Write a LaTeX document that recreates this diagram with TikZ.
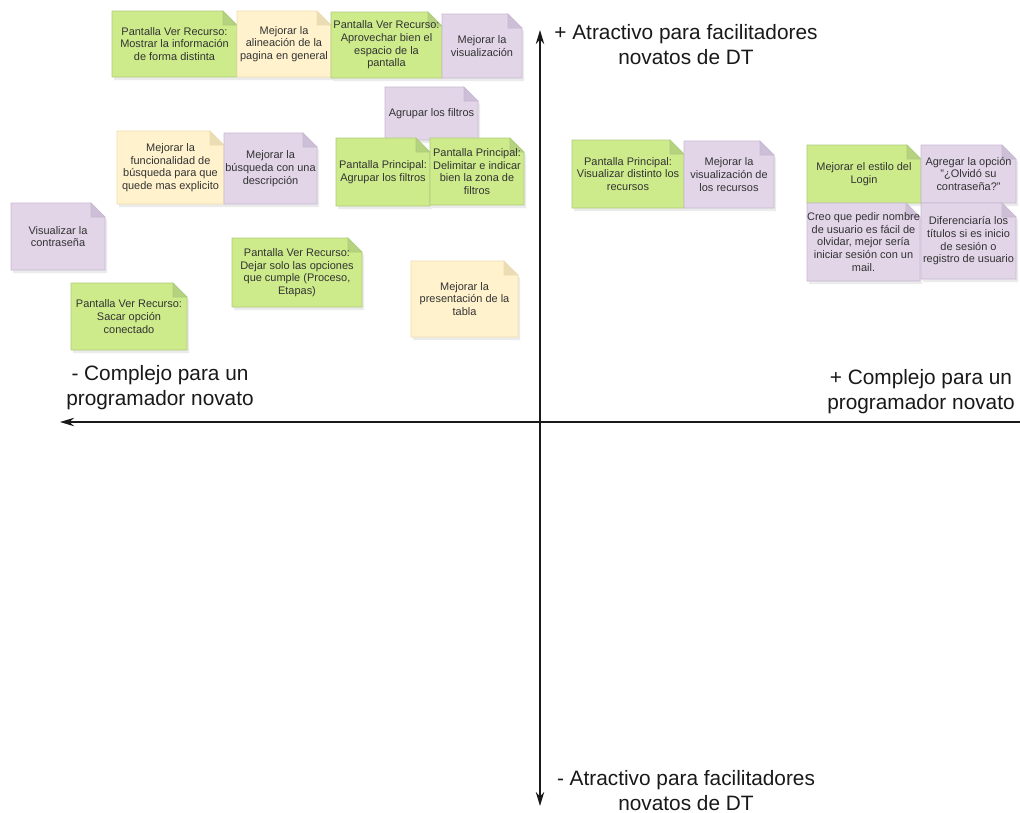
\documentclass[tikz,border=0pt]{standalone}
\usepackage{fontspec}
\setmainfont{Liberation Sans}
\usetikzlibrary{arrows.meta}

\definecolor{greenfill}{HTML}{CDEB8B}
\definecolor{greenline}{HTML}{AFCB7E}
\definecolor{greenfold}{HTML}{B5D27F}
\definecolor{yellowfill}{HTML}{FFF2CC}
\definecolor{yellowline}{HTML}{EEDDB0}
\definecolor{yellowfold}{HTML}{EADCB4}
\definecolor{purplefill}{HTML}{E1D5E7}
\definecolor{purpleline}{HTML}{C9B9D3}
\definecolor{purplefold}{HTML}{CDBFD8}

% sticky note: name, colour, x1, y1, x2, y2, text (pixel coordinates, y down)
\newcommand{\stickynote}[7]{%
  \path[noteshadow] (#3+2,#4+3) -- (#5-14+2,#4+3) -- (#5+2,#4+14+3) -- (#5+2,#6+3) -- (#3+2,#6+3) -- cycle;
  \path[note#2] (#3,#4) -- (#5-14,#4) -- (#5,#4+14) -- (#5,#6) -- (#3,#6) -- cycle;
  \path[fold#2] (#5-14,#4) -- (#5-14,#4+14) -- (#5,#4+14) -- cycle;
  \node[notetext] (#1) at ({(#3+#5)/2},{(#4+#6)/2}) {#7};}

\begin{document}
\begin{tikzpicture}
	[x=0.025cm, y=-0.025cm,
	noteshadow/.style={fill=black, opacity=0.08},
	notegreen/.style={fill=greenfill, draw=greenline, line width=0.5pt},
	noteyellow/.style={fill=yellowfill, draw=yellowline, line width=0.5pt},
	notepurple/.style={fill=purplefill, draw=purpleline, line width=0.5pt},
	foldgreen/.style={fill=greenfold, draw=greenline, line width=0.5pt},
	foldyellow/.style={fill=yellowfold, draw=yellowline, line width=0.5pt},
	foldpurple/.style={fill=purplefold, draw=purpleline, line width=0.5pt},
	notetext/.style={align=center, inner sep=0pt, text=black!80, font=\fontsize{7.8}{9}\selectfont},
	axislabel/.style={align=center, inner sep=0pt, text=black!90, font=\fontsize{14.8}{17.8}\selectfont},
	axis/.style={line width=1.2pt, black!90}]
	\useasboundingbox (0,0) rectangle (1020,812);
	\fill[white] (0,0) rectangle (1020,812);

	% axes
	\coordinate (ytop) at (540,30);
	\coordinate (ybot) at (540,806);
	\coordinate (xleft) at (60,422);
	\coordinate (xright) at (1020,422);
	\draw[axis, {Stealth[length=10pt,width=6pt]}-{Stealth[length=10pt,width=6pt]}] (ybot) -- (ytop);
	\draw[axis, {Stealth[length=10pt,width=6pt]}-] (xleft) -- (xright);

	\node[axislabel] (atrmas) at (686,45) {+ Atractivo para facilitadores\\novatos de DT};
	\node[axislabel] (atrmenos) at (686,791) {- Atractivo para facilitadores\\novatos de DT};
	\node[axislabel] (compmenos) at (160,388) {- Complejo para un\\programador novato};
	\node[axislabel] (compmas) at (921,392) {+ Complejo para un\\programador novato};

	% notes, top left quadrant
	\stickynote{mostrar}{green}{112}{11}{237}{77}{Pantalla Ver Recurso:\\Mostrar la información\\de forma distinta}
	\stickynote{alineacion}{yellow}{237}{11}{331}{77}{Mejorar la\\alineación de la\\pagina en general}
	\stickynote{aprovechar}{green}{331}{12}{442}{78}{Pantalla Ver Recurso:\\Aprovechar bien el\\espacio de la\\pantalla}
	\stickynote{visualizacion}{purple}{442}{14}{522}{78}{Mejorar la\\visualización}
	\stickynote{agrupar}{purple}{385}{87}{478}{140}{Agrupar los filtros}
	\stickynote{agruparprin}{green}{336}{138}{430}{206}{Pantalla Principal:\\Agrupar los filtros}
	\stickynote{delimitar}{green}{430}{138}{524}{205}{Pantalla Principal:\\Delimitar e indicar\\bien la zona de\\filtros}
	\stickynote{funcionalidad}{yellow}{117}{131}{224}{204}{Mejorar la\\funcionalidad de\\búsqueda para que\\quede mas explicito}
	\stickynote{busqueda}{purple}{224}{133}{317}{204}{Mejorar la\\búsqueda con una\\descripción}
	\stickynote{contrasena}{purple}{11}{203}{105}{270}{Visualizar la\\contraseña}
	\stickynote{dejar}{green}{232}{238}{362}{307}{Pantalla Ver Recurso:\\Dejar solo las opciones\\que cumple (Proceso,\\Etapas)}
	\stickynote{sacar}{green}{71}{283}{187}{350}{Pantalla Ver Recurso:\\Sacar opción\\conectado}
	\stickynote{tabla}{yellow}{411}{261}{518}{337}{Mejorar la\\presentación de la\\tabla}

	% notes, top right quadrant
	\stickynote{distinto}{green}{572}{140}{684}{208}{Pantalla Principal:\\Visualizar distinto los\\recursos}
	\stickynote{recursos}{purple}{684}{141}{774}{208}{Mejorar la\\visualización de\\los recursos}
	\stickynote{login}{green}{807}{145}{921}{203}{Mejorar el estilo del\\Login}
	\stickynote{olvido}{purple}{921}{145}{1016}{203}{Agregar la opción\\"¿Olvidó su\\contraseña?"}
	\stickynote{mail}{purple}{807}{203}{920}{281}{Creo que pedir nombre\\de usuario es fácil de\\olvidar, mejor sería\\iniciar sesión con un\\mail.}
	\stickynote{titulos}{purple}{921}{203}{1016}{279}{Diferenciaría los\\títulos si es inicio\\de sesión o\\registro de usuario}
\end{tikzpicture}
\end{document}
